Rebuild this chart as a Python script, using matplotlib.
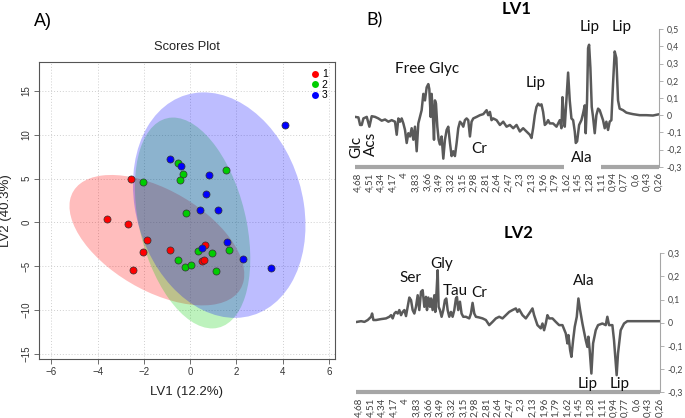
import numpy as np
import matplotlib
matplotlib.use("Agg")
import matplotlib.pyplot as plt
from matplotlib.patches import Ellipse, Rectangle
from matplotlib.lines import Line2D

# ---------------- data: scores plot ----------------
g1_x = [-2.58, -3.59, -2.68, -1.87, -2.06, -2.46, -0.89, 0.63, 0.49, 0.58]
g1_y = [4.92, 0.34, -0.23, -2.05, -3.35, -5.44, -3.19, -2.62, -4.45, -4.30]
g2_x = [-2.06, -0.52, -0.32, -0.43, 1.54, -0.19, 0.32, 0.94, 1.69, -0.53, -0.24, 0.03, 1.10]
g2_y = [4.66, 6.74, 5.53, 4.81, 5.98, 1.10, -3.27, -3.54, -3.19, -4.33, -5.06, -4.87, -5.55]
g3_x = [4.09, -0.86, -0.40, 0.82, 0.68, 0.42, 1.20, 0.49, 1.57, 2.29, 3.49]
g3_y = [11.10, 7.27, 6.40, 5.38, 3.22, 1.41, 1.41, -2.89, -2.28, -4.22, -5.21]
group_names = ["1", "2", "3"]
group_colors = ["#FF0000", "#00CD00", "#0000FF"]

# ---------------- data: loadings ----------------
lv1_ppm = [4.729, 4.680, 4.655, 4.631, 4.606, 4.557, 4.518, 4.484, 4.435, 4.386, 4.337, 4.288,
           4.239, 4.190, 4.141, 4.116, 4.092, 4.067, 4.043, 4.018, 3.994, 3.969, 3.945, 3.920,
           3.896, 3.871, 3.847, 3.822, 3.798, 3.773, 3.749, 3.724, 3.700, 3.675, 3.651, 3.636,
           3.616, 3.602, 3.587, 3.567, 3.553, 3.538, 3.518, 3.499, 3.479, 3.455, 3.430, 3.406,
           3.381, 3.357, 3.332, 3.308, 3.283, 3.259, 3.234, 3.210, 3.185, 3.161, 3.136, 3.112,
           3.087, 3.063, 3.038, 3.014, 2.989, 2.940, 2.891, 2.842, 2.793, 2.769, 2.744, 2.720,
           2.695, 2.646, 2.597, 2.548, 2.499, 2.450, 2.401, 2.352, 2.303, 2.255, 2.206, 2.157,
           2.132, 2.108, 2.083, 2.059, 2.034, 2.010, 1.985, 1.961, 1.936, 1.912, 1.887, 1.863,
           1.814, 1.764, 1.715, 1.691, 1.676, 1.657, 1.642, 1.618, 1.593, 1.569, 1.544, 1.519,
           1.495, 1.480, 1.460, 1.431, 1.397, 1.373, 1.348, 1.334, 1.314, 1.299, 1.284, 1.265,
           1.245, 1.226, 1.201, 1.177, 1.152, 1.128, 1.103, 1.079, 1.054, 1.030, 1.005, 0.981,
           0.956, 0.932, 0.907, 0.883, 0.858, 0.834, 0.784, 0.736, 0.686, 0.638, 0.540, 0.442,
           0.344, 0.270]
lv1_val = [-0.010, -0.013, -0.057, -0.057, -0.019, -0.010, -0.067, -0.006, -0.010, -0.019, -0.032, -0.025,
           -0.038, -0.029, -0.038, -0.114, -0.019, -0.038, -0.019, -0.048, -0.086, -0.162, -0.105, -0.124,
           -0.076, -0.143, -0.067, -0.210, -0.048, -0.010, 0.029, 0.124, 0.086, 0.162, 0.181, 0.152,
           -0.010, 0.124, 0.029, -0.143, 0.086, 0.067, -0.067, -0.143, -0.171, -0.124, -0.253, -0.143,
           -0.086, -0.067, -0.162, -0.238, -0.210, -0.238, -0.162, -0.076, -0.038, -0.048, -0.067, -0.029,
           -0.019, -0.029, -0.124, -0.038, -0.019, -0.010, 0.000, 0.006, 0.029, 0.000, 0.019, -0.029,
           -0.019, -0.029, -0.057, -0.038, -0.067, -0.057, -0.076, -0.057, -0.095, -0.076, -0.095, -0.114,
           -0.133, -0.076, 0.000, 0.048, 0.067, 0.057, 0.063, 0.019, -0.057, -0.048, -0.029, -0.048,
           -0.048, -0.067, -0.029, -0.076, 0.105, -0.010, -0.067, 0.086, 0.248, 0.086, -0.019, -0.029,
           -0.095, -0.162, -0.152, -0.057, -0.029, 0.010, 0.057, -0.105, 0.086, 0.390, 0.410, 0.276,
           0.048, -0.010, -0.105, 0.000, 0.038, 0.029, 0.000, -0.029, -0.076, -0.038, -0.086, -0.038,
           -0.029, 0.181, 0.371, 0.333, 0.086, 0.038, 0.029, 0.015, 0.010, 0.006, 0.000, 0.000,
           -0.002, 0.004]

lv2_ppm = [4.714, 4.655, 4.606, 4.557, 4.508, 4.493, 4.474, 4.435, 4.361, 4.288, 4.239, 4.214,
           4.190, 4.165, 4.141, 4.116, 4.092, 4.067, 4.043, 4.018, 3.994, 3.969, 3.945, 3.920,
           3.896, 3.871, 3.847, 3.822, 3.798, 3.773, 3.749, 3.724, 3.700, 3.685, 3.665, 3.641,
           3.626, 3.602, 3.577, 3.563, 3.543, 3.528, 3.514, 3.494, 3.470, 3.445, 3.421, 3.401,
           3.381, 3.357, 3.332, 3.308, 3.283, 3.259, 3.244, 3.225, 3.200, 3.176, 3.151, 3.112,
           3.063, 3.038, 3.014, 2.989, 2.965, 2.916, 2.867, 2.818, 2.769, 2.720, 2.671, 2.622,
           2.573, 2.524, 2.475, 2.426, 2.377, 2.353, 2.328, 2.279, 2.230, 2.181, 2.132, 2.108,
           2.059, 2.010, 1.985, 1.961, 1.936, 1.912, 1.887, 1.838, 1.789, 1.740, 1.691, 1.642,
           1.618, 1.603, 1.578, 1.559, 1.534, 1.510, 1.480, 1.456, 1.431, 1.397, 1.348, 1.324,
           1.309, 1.290, 1.265, 1.240, 1.201, 1.167, 1.103, 1.054, 1.030, 1.005, 0.956, 0.932,
           0.907, 0.893, 0.873, 0.834, 0.784, 0.736, 0.638, 0.540, 0.442, 0.344, 0.256]
lv2_val = [0.004, 0.007, 0.004, 0.012, 0.026, 0.040, 0.012, 0.012, 0.016, 0.019, 0.026, 0.033,
           0.019, 0.040, 0.047, 0.040, 0.055, 0.033, 0.047, 0.055, 0.029, 0.069, 0.109, 0.098,
           0.055, 0.040, 0.069, 0.119, 0.055, 0.134, 0.141, 0.069, 0.112, 0.055, 0.109, 0.069,
           0.105, 0.055, 0.119, 0.047, 0.141, 0.227, 0.069, 0.055, 0.026, 0.055, 0.098, 0.105,
           0.055, 0.026, 0.047, 0.026, 0.055, 0.105, 0.112, 0.055, 0.091, 0.040, 0.026, 0.026,
           0.019, 0.040, 0.086, 0.040, 0.026, 0.023, 0.019, 0.012, -0.010, 0.004, 0.019, 0.026,
           0.019, 0.033, 0.047, 0.055, 0.062, 0.047, 0.058, 0.033, 0.019, 0.040, 0.062, 0.033,
           -0.010, -0.024, -0.003, -0.032, -0.003, 0.033, 0.019, 0.019, 0.004, -0.010, -0.010, -0.046,
           -0.089, -0.053, -0.118, -0.147, -0.075, -0.017, 0.026, 0.105, 0.055, -0.003, -0.075, -0.104,
           -0.060, -0.118, -0.219, -0.089, -0.032, -0.010, -0.003, -0.010, 0.026, -0.010, -0.010, -0.075,
           -0.176, -0.226, -0.132, -0.032, -0.003, 0.007, 0.007, 0.007, 0.007, 0.007, 0.007]

ppm_labels = ["4,68", "4,51", "4,34", "4,17", "4", "3,83", "3,66", "3,49", "3,32", "3,15",
              "2,98", "2,81", "2,64", "2,47", "2,3", "2,13", "1,96", "1,79", "1,62", "1,45",
              "1,28", "1,11", "0,94", "0,77", "0,6", "0,43", "0,26"]
lv1_yticks = [0.5, 0.4, 0.3, 0.2, 0.1, 0.0, -0.1, -0.2, -0.3]
lv2_yticks = [0.3, 0.2, 0.1, 0.0, -0.1, -0.2, -0.3]

# ---------------- figure ----------------
W, H = 685, 418
fig = plt.figure(figsize=(W / 100, H / 100), dpi=100)


def fx(px):
    return px / W


def fy(py):
    return 1 - py / H


# ---------------- panel A: scores plot ----------------
RFONT = "Liberation Sans"
ax = fig.add_axes([fx(39), fy(359), fx(335) - fx(39), fy(62) - fy(359)])
ax.set_xlim(-6.54, 6.26)
ax.set_ylim(-15.6, 18.3)
ax.set_xticks(np.arange(-6, 7, 2))
ax.set_yticks(np.arange(-15, 16, 5))
ax.grid(True, linestyle=(0, (1, 2)), color="#cfcfcf", linewidth=0.7)
ax.set_axisbelow(True)

groups = [(g1_x, g1_y), (g2_x, g2_y), (g3_x, g3_y)]
k95 = np.sqrt(5.991)
for (gx, gy), col in zip(groups, group_colors):
    gx = np.asarray(gx); gy = np.asarray(gy)
    cov = np.cov(gx, gy)
    vals, vecs = np.linalg.eigh(cov)
    order = vals.argsort()[::-1]
    vals = vals[order]; vecs = vecs[:, order]
    ang = np.degrees(np.arctan2(vecs[1, 0], vecs[0, 0]))
    e = Ellipse((gx.mean(), gy.mean()), 2 * k95 * np.sqrt(vals[0]), 2 * k95 * np.sqrt(vals[1]),
                angle=ang, facecolor=col, alpha=0.26, edgecolor="none", zorder=1)
    ax.add_patch(e)

for (gx, gy), col in zip(groups, group_colors):
    ax.scatter(gx, gy, s=26, c=col, edgecolors="#333333", linewidths=0.5, zorder=3)

for sp in ax.spines.values():
    sp.set_color("#555555")
    sp.set_linewidth(0.8)
ax.tick_params(direction="out", length=3.5, width=0.6, color="#555555", labelsize=7,
               labelcolor="#333333", pad=2)
for lab in ax.get_xticklabels() + ax.get_yticklabels():
    lab.set_fontfamily(RFONT)
plt.setp(ax.get_yticklabels(), rotation=90, va="center")
ax.set_xlabel("LV1 (12.2%)", fontsize=9.5, family=RFONT, color="#222222", labelpad=7)
ax.set_ylabel("LV2 (40.3%)", fontsize=9.5, family=RFONT, color="#222222", labelpad=7)
ax.set_title("Scores Plot", fontsize=9.3, family=RFONT, color="#222222", pad=9)

handles = [Line2D([], [], marker="o", linestyle="none", markersize=5, markerfacecolor=c,
                  markeredgecolor="none") for c in group_colors]
leg = ax.legend(handles, group_names, loc="upper right", frameon=False,
                handletextpad=0.2, labelspacing=0.05, borderaxespad=0.3, handlelength=1.0,
                prop={"family": RFONT, "size": 7.5})

fig.text(fx(43), fy(22), "A)", fontsize=13, family=RFONT, ha="center", va="center")

# ---------------- panel B: loadings ----------------
LFONT = "Lato"
LINE_C = "#5a5a5a"
BAR_C = "#a6a6a6"
ticks_pos = [float(s.replace(",", ".")) for s in ppm_labels]


def style_loading(a, yticks):
    a.set_xlim(4.73, 0.255)
    a.set_ylim(min(yticks), max(yticks))
    a.spines["left"].set_visible(False)
    a.spines["top"].set_visible(False)
    a.spines["right"].set_color(BAR_C)
    a.spines["right"].set_linewidth(0.8)
    a.spines["bottom"].set_color(BAR_C)
    a.spines["bottom"].set_linewidth(3.0)
    a.spines["bottom"].set_capstyle("butt")
    a.yaxis.tick_right()
    a.set_yticks(yticks)
    a.set_yticklabels([("%g" % v).replace(".", ",") if v != 0 else "0" for v in yticks],
                      family=LFONT)
    a.tick_params(axis="y", direction="out", length=3, width=0.6, color=BAR_C, labelsize=6.3,
                  labelcolor="#404040", pad=2.5)
    a.set_xticks(ticks_pos)
    a.set_xticklabels(ppm_labels, rotation=90, family=LFONT)
    a.tick_params(axis="x", length=0, labelsize=7, labelcolor="#404040", pad=4)
    a.patch.set_alpha(0)


ax1 = fig.add_axes([fx(355), fy(166.7), fx(659) - fx(355), fy(29.3) - fy(166.7)])
ax1.plot(lv1_ppm, lv1_val, color=LINE_C, linewidth=1.8, solid_joinstyle="round")
style_loading(ax1, lv1_yticks)

ax2 = fig.add_axes([fx(356), fy(392.3), fx(660) - fx(356), fy(253.3) - fy(392.3)])
ax2.plot(lv2_ppm, lv2_val, color=LINE_C, linewidth=1.8, solid_joinstyle="round")
style_loading(ax2, lv2_yticks)

# white gap in LV1 axis bar behind "Ala"
fig.patches.append(Rectangle((fx(564), fy(172)), fx(601) - fx(564), fy(162) - fy(172),
                             transform=fig.transFigure, facecolor="white", edgecolor="none",
                             zorder=5))

fig.text(fx(517), fy(9), "LV1", fontsize=12, weight="bold", family=LFONT, ha="center", va="center")
fig.text(fx(519), fy(233), "LV2", fontsize=12, weight="bold", family=LFONT, ha="center", va="center")
fig.text(fx(375), fy(20), "B)", fontsize=13, family=LFONT, ha="center", va="center")

ann = dict(fontsize=11, family=LFONT, ha="center", va="center", color="#111111", zorder=6)
fig.text(fx(427), fy(69), "Free Glyc", **ann)
fig.text(fx(535.5), fy(83), "Lip", **ann)
fig.text(fx(590), fy(27), "Lip", **ann)
fig.text(fx(622), fy(27), "Lip", **ann)
fig.text(fx(582), fy(158), "Ala", **ann)
fig.text(fx(479), fy(149), "Cr", **ann)
fig.text(fx(356), fy(147), "Glc", rotation=90, **ann)
fig.text(fx(371), fy(144), "Acs", rotation=90, **ann)

fig.text(fx(410), fy(278.5), "Ser", **ann)
fig.text(fx(442), fy(264), "Gly", **ann)
fig.text(fx(455), fy(291), "Tau", **ann)
fig.text(fx(479), fy(293), "Cr", **ann)
fig.text(fx(584), fy(281), "Ala", **ann)
fig.text(fx(588), fy(384), "Lip", **ann)
fig.text(fx(620), fy(384), "Lip", **ann)

fig.savefig("out.png", dpi=100)
